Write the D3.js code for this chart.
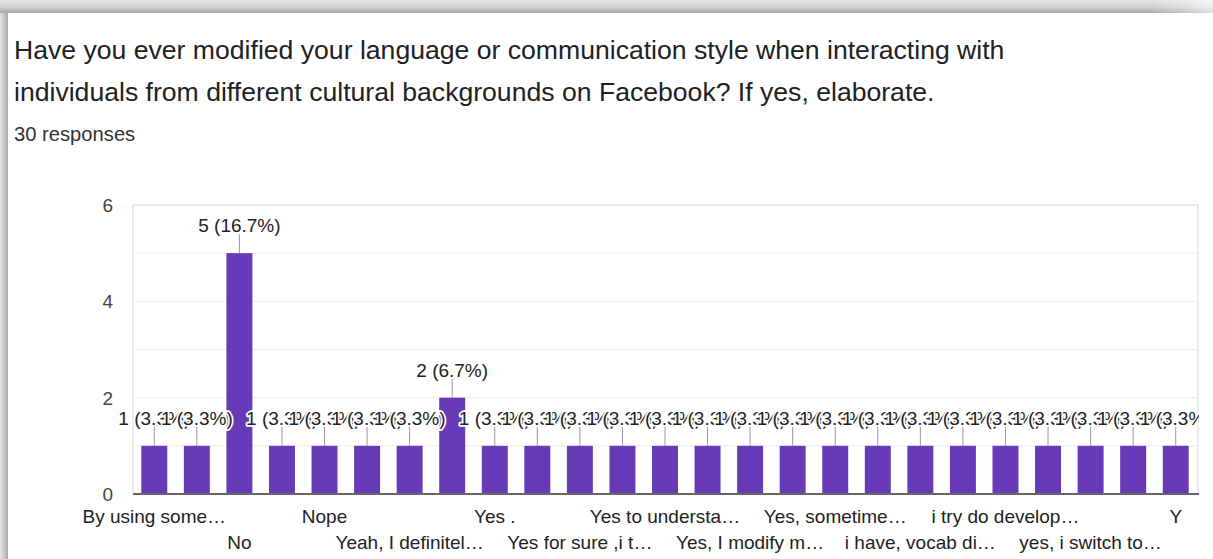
<!DOCTYPE html>
<html>
<head>
<meta charset="utf-8">
<script src="https://cdn.jsdelivr.net/npm/d3@7"></script>
<style>
  html, body { margin: 0; padding: 0; background: #fff; }
  svg { display: block; font-family: "Liberation Sans", Arial, sans-serif; }
</style>
</head>
<body>
<svg id="chart" width="1213" height="559"></svg>
<script>
// ---- data ----
const titleLines = [
  "Have you ever modified your language or communication style when interacting with",
  "individuals from different cultural backgrounds on Facebook? If yes, elaborate."
];
const subtitle = "30 responses";
const totalResponses = 30;
const categories = [
  "By using some…", "", "No", "", "Nope", "", "Yeah, I definitel…", "Yes",
  "Yes .", "", "Yes for sure ,i t…", "", "Yes to understa…", "", "Yes, I modify m…", "",
  "Yes, sometime…", "", "i have, vocab di…", "", "i try do develop…", "", "yes, i switch to…", "",
  "Y"
];
const values = [
  1, 1, 5, 1, 1, 1, 1, 2,
  1, 1, 1, 1, 1, 1, 1, 1,
  1, 1, 1, 1, 1, 1, 1, 1,
  1
];
const yTicks = [0, 2, 4, 6];
const yGrid = [0, 1, 2, 3, 4, 5, 6];

// ---- layout ----
const svg = d3.select("#chart");
const W = 1213, H = 559;
const plot = { left: 133, right: 1197, top: 205, bottom: 494 };
const clipRight = 1199;

// card shadow frame
const defs = svg.append("defs");
const gTop = defs.append("linearGradient").attr("id", "gTop").attr("x1", 0).attr("y1", 0).attr("x2", 0).attr("y2", 1);
gTop.append("stop").attr("offset", "0%").attr("stop-color", "#e6e6e6");
gTop.append("stop").attr("offset", "55%").attr("stop-color", "#cfcfcf");
gTop.append("stop").attr("offset", "100%").attr("stop-color", "#a8a8a8");
const gLeft = defs.append("linearGradient").attr("id", "gLeft").attr("x1", 0).attr("y1", 0).attr("x2", 1).attr("y2", 0);
gLeft.append("stop").attr("offset", "0%").attr("stop-color", "#e2e2e2");
gLeft.append("stop").attr("offset", "50%").attr("stop-color", "#c8c8c8");
gLeft.append("stop").attr("offset", "100%").attr("stop-color", "#a9a9a9");
const gFade = defs.append("linearGradient").attr("id", "gFade").attr("x1", 0).attr("y1", 0).attr("x2", 1).attr("y2", 0);
gFade.append("stop").attr("offset", "0%").attr("stop-color", "#fff").attr("stop-opacity", 0);
gFade.append("stop").attr("offset", "100%").attr("stop-color", "#fff").attr("stop-opacity", 0.6);

svg.append("rect").attr("width", W).attr("height", H).attr("fill", "#fff");
svg.append("rect").attr("x", 0).attr("y", 0).attr("width", W).attr("height", 13).attr("fill", "url(#gTop)");
svg.append("rect").attr("x", 1150).attr("y", 0).attr("width", 63).attr("height", 13).attr("fill", "url(#gFade)");
svg.append("rect").attr("x", 0).attr("y", 13).attr("width", 8).attr("height", H - 13).attr("fill", "url(#gLeft)");

// title
const tText = svg.append("g").attr("fill", "#202124");
titleLines.forEach((t, i) => {
  tText.append("text").attr("x", 14).attr("y", 59 + i * 42)
    .attr("font-size", 26.6).text(t);
});
tText.append("text").attr("x", 14).attr("y", 141).attr("font-size", 20.2).attr("fill", "#333").text(subtitle);

// scales
const idx = d3.range(categories.length);
const x = d3.scaleBand().domain(idx).range([plot.left, plot.right]).paddingInner(0.39).paddingOuter(0.195);
const y = d3.scaleLinear().domain([0, 6]).range([plot.bottom, plot.top]);

defs.append("clipPath").attr("id", "clip").append("rect")
  .attr("x", 8).attr("y", 0).attr("width", clipRight - 8).attr("height", H);

const g = svg.append("g").attr("clip-path", "url(#clip)");

// gridlines
g.selectAll("line.grid").data(yGrid.filter(d => d > 0)).join("line")
  .attr("x1", plot.left).attr("x2", clipRight)
  .attr("y1", d => y(d)).attr("y2", d => y(d))
  .attr("stroke", "#ebebeb").attr("stroke-width", d => d === 6 ? 2 : 1);
g.append("line").attr("x1", plot.left).attr("x2", plot.left).attr("y1", plot.top).attr("y2", plot.bottom)
  .attr("stroke", "#ebebeb").attr("stroke-width", 2);
g.append("line").attr("x1", clipRight - 1).attr("x2", clipRight - 1).attr("y1", plot.top).attr("y2", plot.bottom)
  .attr("stroke", "#ebebeb").attr("stroke-width", 2);

// y axis labels
const yAxis = d3.axisLeft(y).tickValues(yTicks).tickSize(0).tickPadding(0).tickFormat(d3.format("d"));
const ya = svg.append("g").attr("transform", `translate(${113},0)`).call(yAxis);
ya.select(".domain").remove();
ya.selectAll("text").attr("font-size", 19).attr("fill", "#444")
  .attr("font-family", "Liberation Sans, Arial, sans-serif").attr("dy", "0.35em");

// bars
g.selectAll("rect.bar").data(values).join("rect").attr("class", "bar")
  .attr("x", (d, i) => x(i)).attr("width", x.bandwidth())
  .attr("y", d => y(d)).attr("height", d => y(0) - y(d))
  .attr("fill", "#673ab7");

// baseline
g.append("line").attr("x1", plot.left).attr("x2", clipRight).attr("y1", y(0)).attr("y2", y(0))
  .attr("stroke", "#666").attr("stroke-width", 2);

// leader lines
g.selectAll("line.leader").data(values).join("line").attr("class", "leader")
  .attr("x1", (d, i) => x(i) + x.bandwidth() / 2).attr("x2", (d, i) => x(i) + x.bandwidth() / 2)
  .attr("y1", d => y(d) - 19).attr("y2", d => y(d))
  .attr("stroke", "#999").attr("stroke-width", 1);

// value labels (drawn in order with white halo)
const fmt = v => `${v} (${(v / totalResponses * 100).toFixed(1)}%)`;
values.forEach((v, i) => {
  g.append("text")
    .attr("x", x(i) + x.bandwidth() / 2).attr("y", y(v) - 21)
    .attr("text-anchor", "middle").attr("font-size", 19)
    .attr("fill", "#222").attr("stroke", "#fff").attr("stroke-width", 3.5)
    .attr("stroke-linejoin", "round").attr("paint-order", "stroke")
    .text(fmt(v));
});

// category labels (alternating rows, every other category)
const xa = svg.append("g");
categories.forEach((c, i) => {
  if (i % 2 !== 0) return;
  const row = (i / 2) % 2;
  xa.append("text")
    .attr("x", x(i) + x.bandwidth() / 2).attr("y", row === 0 ? 523 : 549)
    .attr("text-anchor", "middle").attr("font-size", 19).attr("fill", "#222")
    .text(c);
});
</script>
</body>
</html>
